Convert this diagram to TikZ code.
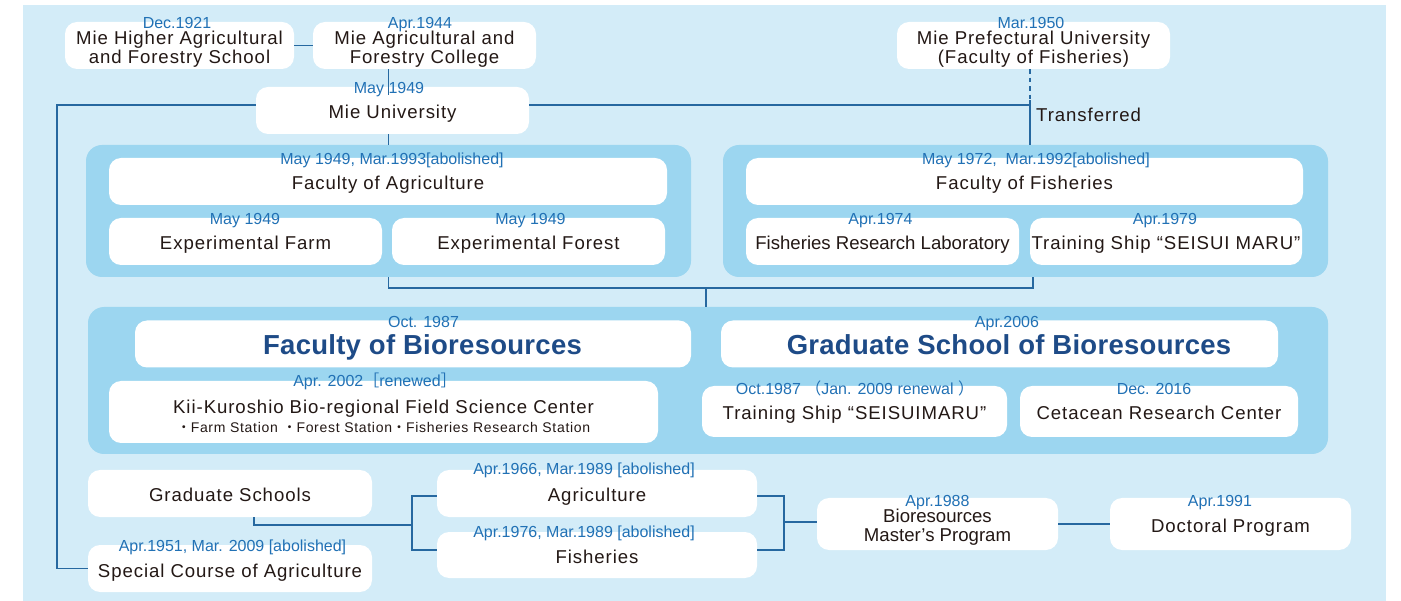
\documentclass[tikz,border=0pt]{standalone}
\usepackage{fontspec}
\usetikzlibrary{positioning}
\newfontfamily\boxfont{Liberation Sans}[LetterSpace=5]
\newfontfamily\datefont{Liberation Sans}
\newfontfamily\titlefont{Liberation Sans}[LetterSpace=1]
\newfontfamily\cjkfont{Noto Sans CJK JP}
\definecolor{paleblue}{RGB}{211,236,248}
\definecolor{groupblue}{RGB}{156,214,240}
\definecolor{linkblue}{RGB}{38,104,160}
\definecolor{dateblue}{RGB}{33,113,181}
\definecolor{titleblue}{RGB}{30,75,135}
\definecolor{ink}{RGB}{35,24,21}

\begin{document}
\begin{tikzpicture}[
    x=1pt, y=-1pt,
    card/.style={fill=white, rounded corners=12pt, inner sep=0pt},
    box/.style={card, align=center, text=ink, font={\boxfont\fontsize{18.6}{19}\selectfont}, execute at begin node={\rule[-4pt]{0pt}{25pt}}},
    tallbox/.style={box, execute at begin node={\rule[-4pt]{0pt}{#1}}},
    plainbox/.style={box, font={\datefont\fontsize{18.6}{19}\selectfont}},
    title/.style={card, text=titleblue, font={\titlefont\bfseries\fontsize{27.5}{30}\selectfont}, execute at begin node={\hspace*{19pt}\rule[-6pt]{0pt}{33pt}}},
    group/.style={fill=groupblue, rounded corners=16pt, inner sep=0pt},
    date/.style={anchor=base, inner sep=0pt, text=dateblue, font={\datefont\fontsize{16}{18}\selectfont}},
    note/.style={anchor=west, inner sep=0pt, text=ink, font={\boxfont\fontsize{18.6}{19}\selectfont}},
    link/.style={draw=linkblue, line width=1.5pt}
]
    % Background
    \useasboundingbox (0,0) rectangle (1401,601);
    \fill[paleblue] (23,5) rectangle (1386,601);

    % Panels
    \node[group, minimum width=605pt, minimum height=132pt] (agrigroup) at (388.5,211) {};
    \node[group, minimum width=605pt, minimum height=132pt] (fishgroup) at (1025.5,211) {};
    \node[group, minimum width=1240pt, minimum height=147pt] (biogroup) at (708,380.5) {};

    % Predecessors
    \node[tallbox=44pt, minimum width=229pt, minimum height=47pt] (hschool) at (179.5,45.5) {Mie Higher Agricultural\\and Forestry School};
    \node[tallbox=44pt, minimum width=223pt, minimum height=47pt] (college) at (424.5,45.5) {Mie Agricultural and\\Forestry College};
    \node[tallbox=44pt, minimum width=273pt, minimum height=47pt] (prefuni) at (1033.5,45.5) {Mie Prefectural University\\(Faculty of Fisheries)};
    \node[box, minimum width=273pt, minimum height=47pt] (mieuni) at (392.5,110.5) {Mie University};
    \node[note] (transferred) at (1036,115) {Transferred};

    % Old faculties
    \node[box, minimum width=558pt, minimum height=47pt] (facagri) at (388,181.5) {Faculty of Agriculture};
    \node[box, minimum width=273pt, minimum height=47pt] (expfarm) at (245.5,241.5) {Experimental Farm};
    \node[box, minimum width=273pt, minimum height=47pt] (expforest) at (528.5,241.5) {Experimental Forest};
    \node[box, minimum width=557pt, minimum height=47pt] (facfish) at (1024.5,181.5) {Faculty of Fisheries};
    \node[plainbox, minimum width=273pt, minimum height=47pt] (fishlab) at (882.5,241.5) {Fisheries Research Laboratory};
    \node[box, minimum width=272pt, minimum height=47pt] (seisui) at (1166,241.5) {Training Ship “SEISUI MARU”};

    % Bioresources
    \node[title, minimum width=556pt, minimum height=47pt] (facbio) at (413,344) {Faculty of Bioresources};
    \node[title, minimum width=557pt, minimum height=47pt] (gradbio) at (999.5,344) {Graduate School of Bioresources};
    \node[tallbox=50pt, minimum width=549pt, minimum height=62pt] (kii) at (383.5,412) {Kii-Kuroshio Bio-regional Field Science Center\\{\fontsize{14}{16}\selectfont{\cjkfont ・}Farm Station {\cjkfont ・}Forest Station{\cjkfont ・}Fisheries Research Station}};
    \node[box, minimum width=305pt, minimum height=51pt] (seisuinew) at (854.5,411.5) {Training Ship “SEISUIMARU”};
    \node[box, minimum width=278pt, minimum height=51pt] (cetacean) at (1159,411.5) {Cetacean Research Center};

    % Graduate schools
    \node[box, minimum width=284pt, minimum height=47pt] (gradschools) at (230,493.5) {Graduate Schools};
    \node[box, minimum width=284pt, minimum height=47pt] (special) at (230,568.5) {Special Course of Agriculture};
    \node[box, minimum width=320pt, minimum height=47pt] (gradagri) at (597,493.5) {Agriculture};
    \node[box, minimum width=320pt, minimum height=46pt] (gradfish) at (597,555) {Fisheries};
    \node[tallbox=42pt, font={\datefont\fontsize{18.6}{19}\selectfont}, minimum width=241pt, minimum height=52pt] (master) at (937.5,524) {Bioresources\\Master’s Program};
    \node[box, minimum width=241pt, minimum height=52pt] (doctoral) at (1230.5,524) {Doctoral Program};

    % Connectors
    \coordinate (transfer) at (1030,100);
    \coordinate (merge) at (706,288);
    \coordinate (gsplit) at (412,525);
    \coordinate (msplit) at (784,522);
    \draw[link] (hschool) -- (college);
    \draw[link] (college.south -| agrigroup.north) -- ([yshift=-8pt]mieuni.north -| agrigroup.north);
    \draw[link] (mieuni.south -| agrigroup.north) -- (agrigroup.north);
    \draw[link] ([yshift=5.5pt]mieuni.west) -- ++(-199,0) |- (special.west);
    \draw[link] ([yshift=5.5pt]mieuni.east) -- ([yshift=5.5pt]mieuni.east -| transfer);
    \draw[link, dash pattern=on 4.5pt off 4pt] (prefuni.south -| transfer) -- (transfer);
    \draw[link] (transfer) -- (transfer |- fishgroup.north);
    \draw[link] (agrigroup.south) |- (merge) -| ([xshift=7.5pt]fishgroup.south);
    \draw[link] (merge) -- (merge |- biogroup.north);
    \draw[link] ([xshift=24pt]gradschools.south) |- (gsplit);
    \draw[link] ([yshift=-2.5pt]gradagri.west) -| (gsplit) |- ([yshift=5pt]gradfish.west);
    \draw[link] ([yshift=-2.5pt]gradagri.east) -| (msplit) |- ([yshift=5pt]gradfish.east);
    \draw[link] (msplit) -- (msplit -| master.west);
    \draw[link] (master) -- (doctoral);

    % Dates
    \node[date] (d-hschool) at (177,28.5) {Dec.1921};
    \node[date] (d-college) at (420,28.5) {Apr.1944};
    \node[date] (d-prefuni) at (1031,28.5) {Mar.1950};
    \node[date] (d-mieuni) at (389,93.5) {May 1949};
    \node[date] (d-facagri) at (392,164.5) {May 1949, Mar.1993[abolished]};
    \node[date] (d-expfarm) at (245,224.5) {May 1949};
    \node[date] (d-expforest) at (530.5,224.5) {May 1949};
    \node[date] (d-facfish) at (1036,164.5) {May 1972,~ Mar.1992[abolished]};
    \node[date] (d-fishlab) at (880.5,224.5) {Apr.1974};
    \node[date] (d-seisui) at (1165,224.5) {Apr.1979};
    \node[date] (d-facbio) at (423.5,327.5) {Oct. 1987};
    \node[date] (d-gradbio) at (1007,327.5) {Apr.2006};
    \node[date] (d-kii) at (375,387) {Apr. 2002{\cjkfont ［}renewed{\cjkfont ］}};
    \node[date] (d-seisuinew) at (855,395) {Oct.1987 {\cjkfont （}Jan. 2009 renewal {\cjkfont ）}};
    \node[date] (d-cetacean) at (1154,395) {Dec. 2016};
    \node[date] (d-gradagri) at (584,475) {Apr.1966, Mar.1989 [abolished]};
    \node[date] (d-gradfish) at (584,537) {Apr.1976, Mar.1989 [abolished]};
    \node[date] (d-special) at (232.5,551) {Apr.1951, Mar. 2009 [abolished]};
    \node[date] (d-master) at (937.5,506.5) {Apr.1988};
    \node[date] (d-doctoral) at (1220,506.5) {Apr.1991};
\end{tikzpicture}
\end{document}
